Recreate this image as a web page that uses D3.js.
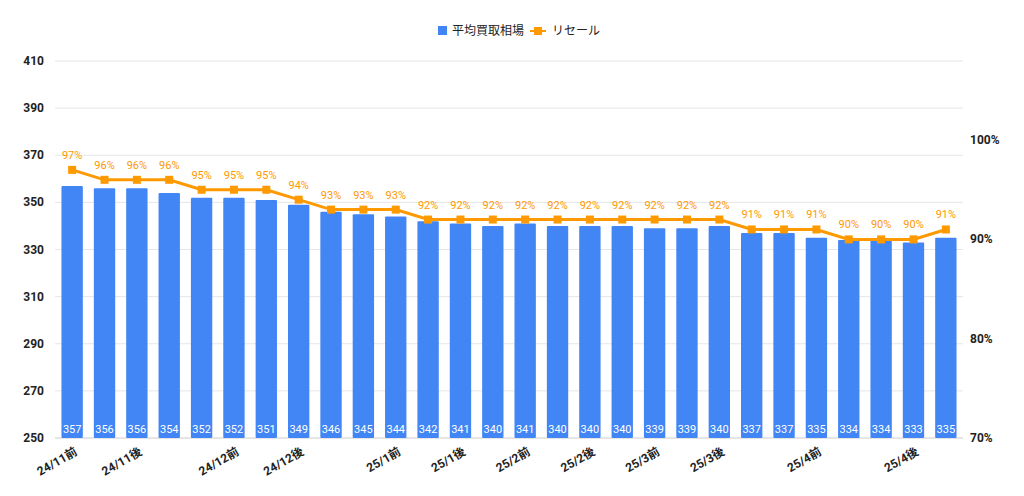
<!DOCTYPE html>
<html><head><meta charset="utf-8">
<script src="https://cdn.jsdelivr.net/npm/d3@7"></script>
<style>body{margin:0;background:#fff;font-family:Roboto,"Noto Sans CJK JP",sans-serif}</style>
</head><body><svg id="c" width="1024" height="496"></svg>
<script>
const categories=["24/11前","24/11中1","24/11後","24/11末","24/12前1","24/12前","24/12中","24/12後","24/12末1","24/12末2","25/1前","25/1中","25/1後","25/1末","25/2前","25/2中","25/2後","25/2末","25/3前","25/3中","25/3後","25/3末1","25/3末2","25/4前","25/4中1","25/4中2","25/4後","25/4末"];
const shownLabels={0:"24/11前",2:"24/11後",5:"24/12前",7:"24/12後",10:"25/1前",12:"25/1後",14:"25/2前",16:"25/2後",18:"25/3前",20:"25/3後",23:"25/4前",26:"25/4後"};
const avgPrice=[357,356,356,354,352,352,351,349,346,345,344,342,341,340,341,340,340,340,339,339,340,337,337,335,334,334,333,335];
const resale=[97,96,96,96,95,95,95,94,93,93,93,92,92,92,92,92,92,92,92,92,92,91,91,91,90,90,90,91];
const leftTicks=[250,270,290,310,330,350,370,390,410];
const rightTicks=[70,80,90,100];
const blue="#4285f4",orange="#ff9900";
const svg=d3.select("#c");
const L=55,R=963,T=61,B=438;
const x=d3.scaleBand().domain(d3.range(categories.length)).range([L,R]).paddingInner(0.34).paddingOuter(0.2);
const y=d3.scaleLinear().domain([250,410]).range([B,T]);
const y2=d3.scaleLinear().domain([70,70+(B-T)/99.3*10]).range([B,T]);
// grid
svg.append("g").selectAll("line").data(leftTicks).join("line")
 .attr("x1",L).attr("x2",R).attr("y1",d=>y(d)).attr("y2",d=>y(d))
 .attr("stroke",d=>d===250?"#cccccc":"#e6e6e6").attr("stroke-width",1);
svg.append("g").selectAll("text").data(leftTicks).join("text")
 .attr("x",44).attr("y",d=>y(d)+4).attr("text-anchor","end")
 .attr("font-size",12).attr("font-weight","bold").attr("fill","#222").text(d=>d);
svg.append("g").selectAll("text").data(rightTicks).join("text")
 .attr("x",970).attr("y",d=>y2(d)+4)
 .attr("font-size",12).attr("font-weight","bold").attr("fill","#222").text(d=>d+"%");
// bars
svg.append("g").selectAll("rect").data(avgPrice).join("rect")
 .attr("x",(d,i)=>x(i)).attr("width",x.bandwidth()).attr("y",d=>y(d)).attr("height",d=>B-y(d))
 .attr("fill",blue).attr("rx",1);
svg.append("g").selectAll("text").data(avgPrice).join("text")
 .attr("x",(d,i)=>x(i)+x.bandwidth()/2).attr("y",B-5).attr("text-anchor","middle")
 .attr("font-size",11).attr("fill","#fff").text(d=>d);
// line
const cx=i=>x(i)+x.bandwidth()/2;
svg.append("path").datum(resale).attr("fill","none").attr("stroke",orange).attr("stroke-width",3)
 .attr("d",d3.line().x((d,i)=>cx(i)).y(d=>y2(d)));
svg.append("g").selectAll("rect").data(resale).join("rect")
 .attr("x",(d,i)=>cx(i)-4).attr("y",d=>y2(d)-4).attr("width",8).attr("height",8).attr("fill",orange);
svg.append("g").selectAll("text").data(resale).join("text")
 .attr("x",(d,i)=>cx(i)).attr("y",d=>y2(d)-11).attr("text-anchor","middle")
 .attr("font-size",11).attr("fill",orange).text(d=>d+"%");
// x labels
svg.append("g").selectAll("text").data(Object.entries(shownLabels)).join("text")
 .attr("transform",d=>`translate(${cx(+d[0])+6},${B+16}) rotate(-30)`)
 .attr("text-anchor","end").attr("font-size",12).attr("font-weight","bold").attr("fill","#222").text(d=>d[1]);
// legend
const lg=svg.append("g").attr("transform","translate(438,31)");
lg.append("rect").attr("x",0).attr("y",-5).attr("width",9).attr("height",9).attr("fill",blue);
lg.append("text").attr("x",14).attr("y",4).attr("font-size",12).attr("fill","#222").text("平均買取相場");
lg.append("line").attr("x1",92).attr("x2",108).attr("y1",0).attr("y2",0).attr("stroke",orange).attr("stroke-width",2);
lg.append("rect").attr("x",96).attr("y",-4).attr("width",8).attr("height",8).attr("fill",orange);
lg.append("text").attr("x",114).attr("y",4).attr("font-size",12).attr("fill","#222").text("リセール");
</script></body></html>
